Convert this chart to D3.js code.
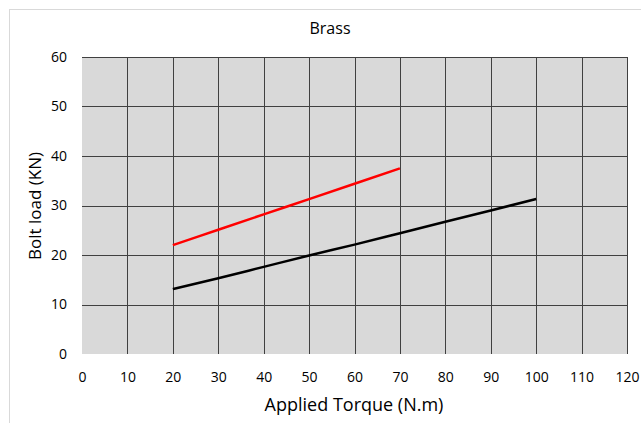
<!DOCTYPE html>
<html><head><meta charset="utf-8">
<script src="https://cdn.jsdelivr.net/npm/d3@7"></script>
<style>body{margin:0;background:#fff}svg{display:block}text{font-family:"Open Sans","Liberation Sans",sans-serif;fill:#000}</style>
</head><body><svg id="c" width="641" height="423"></svg>
<script>
const title = "Brass";
const xLabel = "Applied Torque (N.m)";
const yLabel = "Bolt load (KN)";
const xTicks = [0,10,20,30,40,50,60,70,80,90,100,110,120];
const yTicks = [0,10,20,30,40,50,60];
const redX = [20,30,40,50,60,70];
const redY = [22.0,25.1,28.2,31.3,34.4,37.5];
const blackX = [20,30,40,50,60,70,80,90,100];
const blackY = [13.1,15.3,17.6,19.9,22.1,24.4,26.7,29.0,31.3];

const svg = d3.select("#c");
const L=82, R=627, T=57, B=354;
const x = d3.scaleLinear().domain([0,120]).range([L,R]);
const y = d3.scaleLinear().domain([0,60]).range([B,T]);

svg.append("rect").attr("x",9.5).attr("y",9.5).attr("width",640).attr("height",420)
  .attr("fill","none").attr("stroke","#d9d9d9");
svg.append("rect").attr("x",L).attr("y",T).attr("width",R-L).attr("height",B-T).attr("fill","#d9d9d9");

const g = svg.append("g");
g.selectAll(".vx").data(xTicks.slice(1)).join("line")
  .attr("x1",d=>Math.round(x(d))+0.5).attr("x2",d=>Math.round(x(d))+0.5)
  .attr("y1",T).attr("y2",B).attr("stroke","#404040").attr("stroke-width",1);
g.selectAll(".hy").data(yTicks.slice(1)).join("line")
  .attr("y1",d=>Math.round(y(d))+0.5).attr("y2",d=>Math.round(y(d))+0.5)
  .attr("x1",L).attr("x2",R).attr("stroke","#404040").attr("stroke-width",1);

const xa = svg.append("g").attr("transform",`translate(0,${B})`)
  .call(d3.axisBottom(x).tickValues(xTicks).tickSize(0).tickPadding(18));
xa.select(".domain").remove();
xa.selectAll("text").style("font-size","14px").style("font-family","Open Sans, sans-serif");
const ya = svg.append("g").attr("transform",`translate(${L},0)`)
  .call(d3.axisLeft(y).tickValues(yTicks).tickSize(0).tickPadding(15));
ya.select(".domain").remove();
ya.selectAll("text").style("font-size","14px").style("font-family","Open Sans, sans-serif");

const line = d3.line().curve(d3.curveMonotoneX).x(d=>x(d[0])).y(d=>y(d[1]));
svg.append("path").datum(redX.map((v,i)=>[v,redY[i]])).attr("d",line)
  .attr("fill","none").attr("stroke","#ff0000").attr("stroke-width",2.5);
svg.append("path").datum(blackX.map((v,i)=>[v,blackY[i]])).attr("d",line)
  .attr("fill","none").attr("stroke","#000").attr("stroke-width",2.5);

svg.append("text").attr("x",330).attr("y",34).attr("text-anchor","middle")
  .style("font-size","16px").text(title);
svg.append("text").attr("x",354).attr("y",411).attr("text-anchor","middle")
  .style("font-size","18px").text(xLabel);
svg.append("text").attr("transform","translate(41,206) rotate(-90)").attr("text-anchor","middle")
  .style("font-size","17px").text(yLabel);
</script></body></html>
